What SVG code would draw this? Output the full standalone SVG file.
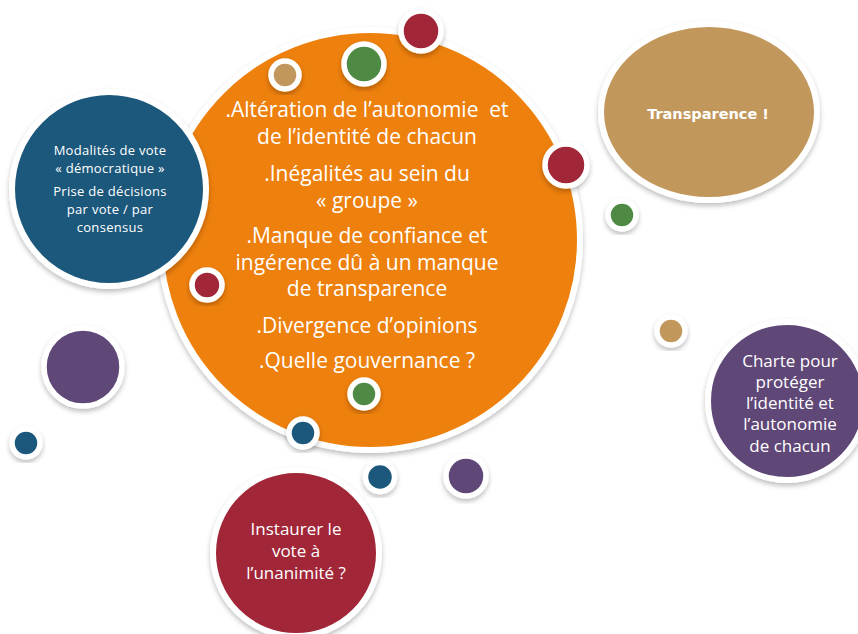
<svg xmlns="http://www.w3.org/2000/svg" width="858" height="634" viewBox="0 0 858 634">
<defs>
<filter id="sh" x="-20%" y="-20%" width="140%" height="140%">
<feDropShadow dx="0" dy="3" stdDeviation="2.5" flood-color="#000" flood-opacity="0.25"/>
</filter>
<style>
.n{stroke:#fff;filter:url(#sh)}
.big{stroke-width:6}
.sm{stroke-width:5.5}
.or{fill:#EE800E}
.bl{fill:#1C587C}
.tn{fill:#C2975B}
.gr{fill:#4F8A45}
.rd{fill:#A12737}
.pu{fill:#5F4777}
text{fill:#fff;font-family:"Open Sans","Liberation Sans",sans-serif;text-anchor:middle}
.t20{font-size:21px}
.t13{font-size:13px;letter-spacing:0.3px}
.t15{font-size:17px}
.tb{font-family:"DejaVu Sans","Liberation Sans",sans-serif;font-weight:bold;font-size:14.5px}
</style>
</defs>
<rect width="858" height="634" fill="#fff"/>
<g id="connectors"/>
<g id="node-orange">
<circle class="n big or" cx="370" cy="240" r="210"/>
<text class="t20" x="367" y="117" xml:space="preserve">.Altération de l’autonomie  et</text>
<text class="t20" x="367" y="144">de l’identité de chacun</text>
<text class="t20" x="367" y="181">.Inégalités au sein du</text>
<text class="t20" x="367" y="208">« groupe »</text>
<text class="t20" x="367" y="243">.Manque de confiance et</text>
<text class="t20" x="367" y="270">ingérence dû à un manque</text>
<text class="t20" x="367" y="296">de transparence</text>
<text class="t20" x="367" y="333">.Divergence d’opinions</text>
<text class="t20" x="367" y="368">.Quelle gouvernance ?</text>
</g>
<g id="node-blue">
<circle class="n big bl" cx="109" cy="189" r="97"/>
<text class="t13" x="110" y="155">Modalités de vote</text>
<text class="t13" x="110" y="173">« démocratique »</text>
<text class="t13" x="110" y="196">Prise de décisions</text>
<text class="t13" x="110" y="214">par vote / par</text>
<text class="t13" x="110" y="232">consensus</text>
</g>
<g id="node-transparence">
<ellipse class="n big tn" cx="709" cy="112" rx="108" ry="88"/>
<text class="tb" x="708" y="119">Transparence !</text>
</g>
<g id="node-charte">
<circle class="n big pu" cx="787" cy="401" r="79"/>
<text class="t15" x="790" y="367">Charte pour</text>
<text class="t15" x="790" y="388">protéger</text>
<text class="t15" x="790" y="409">l’identité et</text>
<text class="t15" x="790" y="430">l’autonomie</text>
<text class="t15" x="790" y="452">de chacun</text>
</g>
<g id="node-vote">
<circle class="n big rd" cx="296" cy="553" r="83"/>
<text class="t15" x="296" y="535">Instaurer le</text>
<text class="t15" x="296" y="557">vote à</text>
<text class="t15" x="296" y="579">l’unanimité ?</text>
</g>
<g id="dots">
<circle id="dot1" class="n sm tn" cx="285" cy="75" r="14"/>
<circle id="dot2" class="n sm gr" cx="364" cy="64" r="20"/>
<circle id="dot3" class="n sm rd" cx="421" cy="31" r="20"/>
<circle id="dot4" class="n sm rd" cx="566" cy="165" r="21"/>
<circle id="dot5" class="n sm gr" cx="622" cy="215" r="14"/>
<circle id="dot6" class="n sm tn" cx="671" cy="331" r="14"/>
<circle id="dot7" class="n sm rd" cx="207" cy="285" r="15"/>
<circle id="dot8" class="n sm pu" cx="83" cy="367" r="39"/>
<circle id="dot9" class="n sm bl" cx="26" cy="443" r="14"/>
<circle id="dot10" class="n sm gr" cx="364" cy="394" r="14"/>
<circle id="dot11" class="n sm bl" cx="303" cy="433" r="14"/>
<circle id="dot12" class="n sm bl" cx="380" cy="477" r="14.5"/>
<circle id="dot13" class="n sm pu" cx="466" cy="476" r="20"/>
</g>
</svg>
